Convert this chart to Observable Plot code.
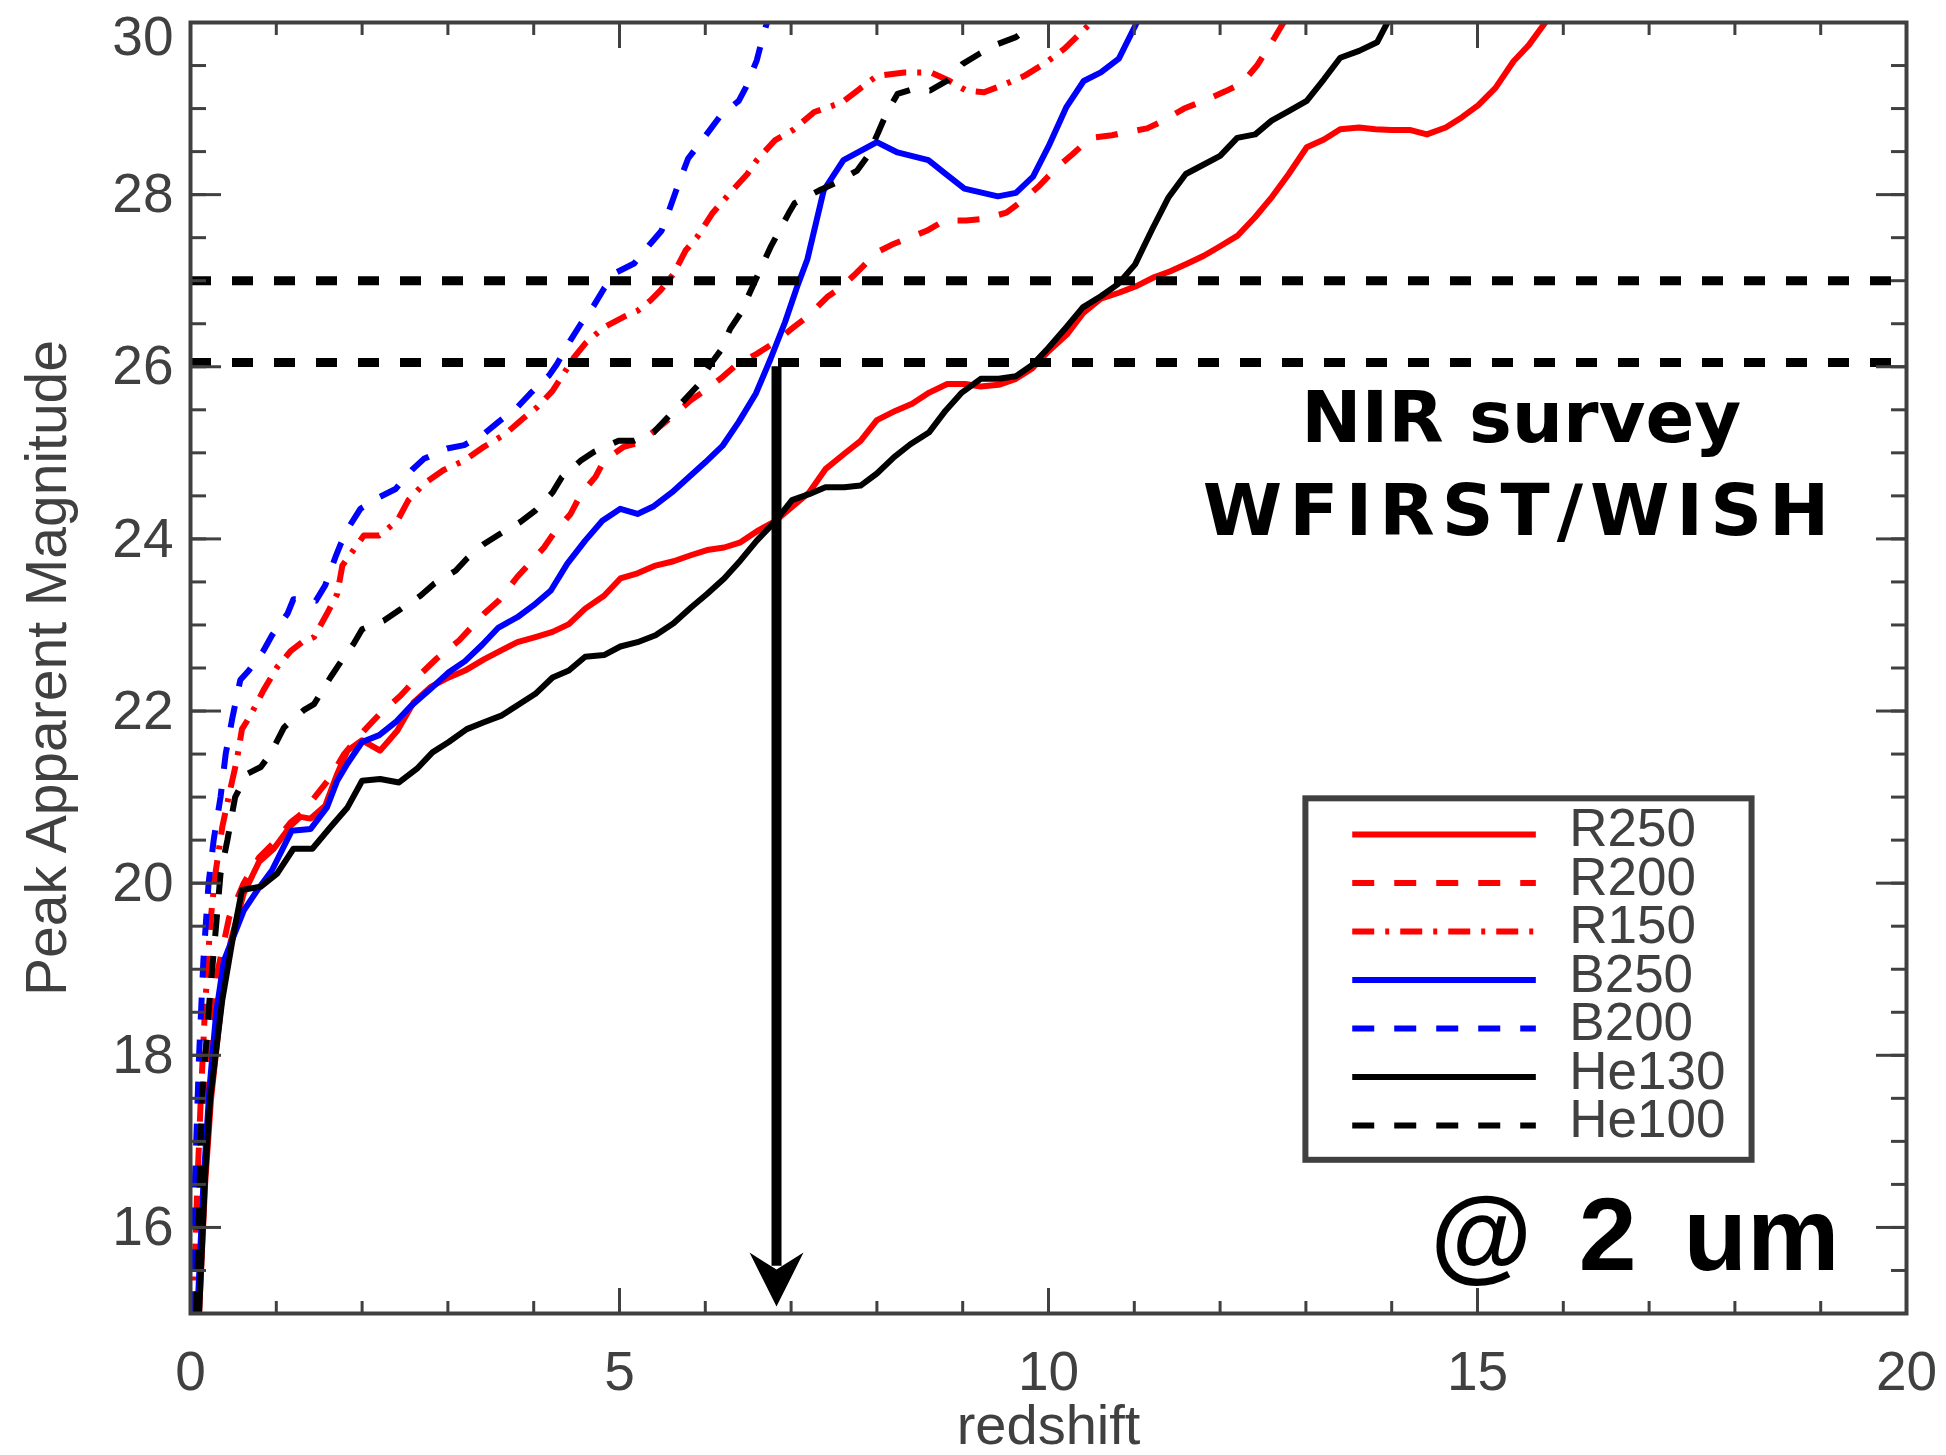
<!DOCTYPE html>
<html>
<head>
<meta charset="utf-8">
<script src="https://cdn.jsdelivr.net/npm/d3@7"></script>
<script src="https://cdn.jsdelivr.net/npm/@observablehq/plot@0.6"></script>
<style>
html, body { margin: 0; padding: 0; background: #ffffff; overflow: hidden; }
#chart svg { display: block; }
</style>
</head>
<body>
<div id="chart"></div>
<script>
// ---------------- data ----------------
const seriesNames = ["R250", "R200", "R150", "B250", "B200", "He130", "He100"];
const seriesColors = ["#ff0000", "#ff0000", "#ff0000", "#0000ff", "#0000ff", "#000000", "#000000"];
const seriesDash = [null, "22,20", "22,11,4,11", null, "22,20", null, "22,20"];

const z_R250 = [0.10,0.17,0.24,0.37,0.47,0.62,0.80,0.97,1.17,1.28,1.40,1.57,1.71,1.83,2.00,2.21,2.41,2.60,2.80,3.01,3.20,3.42,3.61,3.81,4.02,4.22,4.41,4.60,4.82,5.01,5.21,5.42,5.63,5.83,6.02,6.22,6.41,6.62,6.82,7.01,7.21,7.40,7.62,7.81,8.00,8.22,8.41,8.61,8.82,9.03,9.21,9.42,9.62,9.81,10.00,10.22,10.41,10.61,10.82,11.03,11.23,11.42,11.62,11.81,12.00,12.20,12.41,12.61,12.80,13.01,13.21,13.40,13.62,13.81,14.00,14.22,14.41,14.63,14.82,15.01,15.21,15.42,15.60,15.79];
const m_R250 = [15.0,16.5,17.5,18.7,19.33,19.88,20.25,20.40,20.67,20.77,20.75,20.90,21.27,21.54,21.66,21.54,21.77,22.10,22.28,22.39,22.47,22.60,22.70,22.80,22.86,22.92,23.01,23.19,23.34,23.54,23.60,23.69,23.74,23.81,23.87,23.90,23.96,24.10,24.21,24.37,24.54,24.81,24.99,25.14,25.38,25.49,25.57,25.70,25.80,25.80,25.77,25.79,25.86,25.98,26.18,26.38,26.63,26.79,26.86,26.94,27.04,27.11,27.20,27.29,27.40,27.52,27.74,27.98,28.24,28.55,28.64,28.76,28.78,28.76,28.75,28.75,28.70,28.78,28.90,29.04,29.24,29.55,29.74,30.0];

const z_R200 = [0.05,0.15,0.30,0.45,0.62,0.80,1.00,1.17,1.30,1.48,1.63,1.79,2.02,2.21,2.45,2.64,2.87,3.13,3.42,3.59,3.81,4.12,4.23,4.43,4.55,4.72,4.82,5.05,5.24,5.44,5.61,5.83,6.02,6.20,6.37,6.60,6.82,7.03,7.19,7.42,7.58,7.73,7.89,8.04,8.20,8.35,8.58,8.79,9.04,9.25,9.51,9.72,9.89,10.08,10.28,10.49,10.74,10.88,11.15,11.30,11.58,11.81,12.06,12.25,12.43,12.59,12.74];
const m_R200 = [15.0,17.5,18.9,19.6,20.0,20.3,20.5,20.71,20.81,21.04,21.23,21.50,21.77,21.97,22.18,22.39,22.61,22.82,23.13,23.28,23.56,23.90,24.06,24.29,24.52,24.72,24.91,25.07,25.12,25.28,25.42,25.61,25.74,25.88,26.03,26.15,26.29,26.46,26.58,26.81,26.92,27.06,27.22,27.35,27.43,27.49,27.58,27.70,27.70,27.72,27.79,27.95,28.10,28.30,28.47,28.66,28.69,28.72,28.77,28.84,29.00,29.09,29.20,29.29,29.50,29.75,30.0];

const z_R150 = [0.03,0.08,0.12,0.17,0.23,0.29,0.37,0.47,0.54,0.60,0.70,0.85,1.01,1.17,1.30,1.44,1.59,1.71,1.77,1.90,2.02,2.20,2.41,2.54,2.72,2.95,3.19,3.42,3.67,3.89,4.04,4.22,4.35,4.47,4.60,4.82,5.05,5.21,5.36,5.48,5.63,5.77,5.90,6.08,6.28,6.49,6.60,6.81,7.02,7.27,7.59,7.80,8.00,8.32,8.63,8.83,9.04,9.25,9.46,9.72,9.98,10.19,10.50];
const m_R150 = [15.0,16.5,17.5,18.56,19.53,20.11,20.65,21.12,21.43,21.79,21.95,22.24,22.51,22.70,22.80,22.86,23.13,23.36,23.69,23.87,24.04,24.04,24.21,24.45,24.64,24.80,24.91,25.07,25.22,25.41,25.53,25.72,25.92,26.11,26.27,26.46,26.58,26.65,26.77,26.89,27.08,27.35,27.50,27.78,28.01,28.24,28.40,28.63,28.75,28.96,29.07,29.23,29.38,29.42,29.42,29.33,29.21,29.19,29.27,29.38,29.54,29.70,30.0];

const z_B250 = [0.08,0.15,0.22,0.30,0.39,0.62,0.78,0.95,1.18,1.40,1.59,1.71,1.83,2.00,2.20,2.39,2.56,2.80,3.01,3.20,3.40,3.59,3.81,4.00,4.20,4.39,4.60,4.80,5.01,5.21,5.40,5.61,5.81,6.00,6.20,6.39,6.59,6.76,6.93,7.07,7.19,7.38,7.61,8.00,8.24,8.60,8.79,9.02,9.41,9.62,9.82,10.00,10.21,10.41,10.61,10.82,11.03];
const m_B250 = [15.0,16.5,17.6,18.5,19.1,19.68,19.92,20.15,20.61,20.63,20.88,21.19,21.39,21.64,21.72,21.87,22.05,22.26,22.45,22.58,22.77,22.97,23.09,23.23,23.40,23.71,23.98,24.21,24.35,24.29,24.38,24.54,24.72,24.89,25.08,25.36,25.69,26.09,26.52,26.93,27.25,28.05,28.40,28.61,28.49,28.40,28.25,28.07,27.98,28.02,28.21,28.56,29.02,29.32,29.42,29.58,30.0];

const z_B200 = [0.02,0.05,0.10,0.15,0.21,0.27,0.35,0.41,0.49,0.58,0.68,0.85,0.95,1.13,1.20,1.46,1.57,1.69,1.75,1.86,1.98,2.21,2.39,2.58,2.72,2.99,3.19,3.42,3.59,3.81,3.96,4.18,4.27,4.43,4.55,4.70,4.82,4.97,5.17,5.36,5.49,5.59,5.70,5.80,6.03,6.18,6.39,6.47,6.60,6.68,6.72];
const m_B200 = [15.0,16.5,18.0,19.1,19.99,20.5,21.0,21.5,21.93,22.36,22.47,22.70,22.88,23.13,23.30,23.28,23.46,23.79,23.94,24.16,24.35,24.49,24.58,24.80,24.93,25.05,25.09,25.22,25.36,25.53,25.69,25.90,26.03,26.31,26.50,26.71,26.91,27.10,27.20,27.43,27.58,27.85,28.16,28.42,28.72,28.92,29.09,29.24,29.56,29.87,30.0];

const z_He130 = [0.10,0.17,0.23,0.37,0.50,0.60,0.82,1.01,1.20,1.42,1.63,1.83,2.00,2.21,2.43,2.64,2.82,3.01,3.22,3.42,3.63,3.83,4.02,4.22,4.41,4.60,4.82,5.01,5.21,5.42,5.63,5.83,6.02,6.22,6.41,6.60,6.82,7.01,7.21,7.40,7.62,7.81,8.00,8.20,8.39,8.61,8.80,8.99,9.21,9.42,9.62,9.81,10.00,10.20,10.40,10.61,10.81,11.01,11.21,11.40,11.60,11.81,12.00,12.20,12.41,12.60,12.80,13.01,13.21,13.40,13.62,13.83,13.95];
const m_He130 = [15.0,16.6,17.5,18.64,19.4,19.92,19.96,20.11,20.40,20.40,20.65,20.88,21.19,21.21,21.17,21.33,21.52,21.64,21.79,21.87,21.95,22.08,22.20,22.39,22.47,22.63,22.65,22.75,22.80,22.88,23.02,23.20,23.36,23.54,23.75,23.98,24.21,24.45,24.52,24.60,24.60,24.62,24.76,24.95,25.10,25.24,25.49,25.70,25.86,25.86,25.89,26.02,26.22,26.45,26.69,26.82,26.96,27.19,27.60,27.97,28.24,28.35,28.45,28.66,28.70,28.86,28.97,29.09,29.34,29.59,29.67,29.77,30.0];

const z_He100 = [0.07,0.13,0.23,0.29,0.35,0.43,0.52,0.66,0.82,0.93,1.09,1.32,1.44,1.63,1.79,1.90,2.00,2.25,2.43,2.68,2.84,3.09,3.22,3.42,3.61,3.85,4.02,4.22,4.33,4.55,4.70,4.99,5.17,5.40,5.56,5.79,5.91,6.06,6.18,6.29,6.41,6.55,6.76,6.97,7.04,7.33,7.51,7.77,7.88,8.01,8.11,8.24,8.43,8.62,8.83,9.00,9.20,9.41,9.62,9.83];
const m_He100 = [15.0,17.45,18.75,19.41,20.11,20.50,21.0,21.27,21.35,21.50,21.81,22.01,22.08,22.39,22.63,22.78,22.95,23.05,23.17,23.34,23.48,23.63,23.77,23.94,24.06,24.20,24.33,24.54,24.72,24.91,25.01,25.14,25.14,25.24,25.41,25.65,25.78,26.03,26.19,26.44,26.62,26.93,27.39,27.78,27.90,28.05,28.13,28.28,28.43,28.71,28.94,29.17,29.23,29.21,29.33,29.52,29.64,29.75,29.83,29.99];

const seriesZ = [z_R250, z_R200, z_R150, z_B250, z_B200, z_He130, z_He100];
const seriesM = [m_R250, m_R200, m_R150, m_B250, m_B200, m_He130, m_He100];

// survey limits (horizontal dashed lines) and the arrow
const surveyLimits = [27.0, 26.05];
const arrowZ = 6.83, arrowTop = 26.0, arrowTip = 15.08, arrowShaftEnd = 15.55;

// scales and ticks
const xDomain = [0, 20];
const yDomain = [15, 30];
const xMajorTicks = [0, 5, 10, 15, 20];
const xMinorTicks = d3.range(0, 21, 1);
const yMajorTicks = [16, 18, 20, 22, 24, 26, 28, 30];
const yMinorTicks = d3.range(15, 30.01, 0.5);

// texts
const xLabel = "redshift";
const yLabel = "Peak Apparent Magnitude";
const annotLine1 = "NIR survey";
const annotLine2 = "WFIRST/WISH";
const annotBand = "@ 2 um";

// legend layout (in data units)
const legendBox = {x1: 13.0, x2: 18.2, y1: 16.78, y2: 20.98};
const legendLineX1 = 13.54, legendLineX2 = 15.68, legendTextX = 16.07;
const legendTopY = 20.566, legendStepY = 0.5635;

// ---------------- build ----------------
const GRAY = "#404040";
const FONT = "'Liberation Sans', Arial, Helvetica, sans-serif";

const arrowHead = {
  draw(ctx, size) {
    const r = Math.sqrt(size / Math.PI);
    ctx.moveTo(0, 0);
    ctx.lineTo(-r, -2 * r);
    ctx.lineTo(0, -1.37 * r);
    ctx.lineTo(r, -2 * r);
    ctx.closePath();
  }
};

const marks = [];

// curves
seriesNames.forEach((name, i) => {
  const data = seriesZ[i].map((z, j) => ({z, m: seriesM[i][j]}));
  marks.push(Plot.line(data, {
    x: "z", y: "m", stroke: seriesColors[i], strokeWidth: 6,
    strokeDasharray: seriesDash[i] || undefined,
    strokeLinecap: seriesDash[i] ? "butt" : "round",
    strokeLinejoin: "round", clip: true
  }));
});

// survey limit lines
marks.push(Plot.ruleY(surveyLimits, {stroke: "#000", strokeWidth: 9, strokeDasharray: "21,21", strokeLinecap: "butt"}));

// arrow
marks.push(Plot.ruleX([arrowZ], {y1: arrowTop, y2: arrowShaftEnd, stroke: "#000", strokeWidth: 10, strokeLinecap: "butt"}));
marks.push(Plot.dot([{z: arrowZ, m: arrowTip}], {x: "z", y: "m", r: 27, symbol: arrowHead, fill: "#000", stroke: "none"}));

// axes ticks (inward)
for (const anchor of ["bottom", "top"]) {
  marks.push(Plot.axisX({anchor, ticks: xMinorTicks, tickSize: -12, fill: "none", stroke: GRAY, strokeWidth: 3, label: null}));
  marks.push(Plot.axisX({anchor, ticks: xMajorTicks, tickSize: -25, fill: "none", stroke: GRAY, strokeWidth: 3, label: null}));
}
for (const anchor of ["left", "right"]) {
  marks.push(Plot.axisY({anchor, ticks: yMinorTicks, tickSize: -16, fill: "none", stroke: GRAY, strokeWidth: 3, label: null}));
  marks.push(Plot.axisY({anchor, ticks: yMajorTicks, tickSize: -31, fill: "none", stroke: GRAY, strokeWidth: 3, label: null}));
}
// tick labels
marks.push(Plot.axisX({anchor: "bottom", ticks: xMajorTicks, tickSize: 0, tickPadding: 37, fontSize: 55, fill: GRAY, label: null, tickFormat: d3.format("d")}));
marks.push(Plot.axisY({anchor: "left", ticks: yMajorTicks.filter(d => d < 30), tickSize: 0, tickPadding: 17, fontSize: 55, fill: GRAY, label: null, tickFormat: d3.format("d")}));
marks.push(Plot.axisY({anchor: "left", ticks: [30], tickSize: 0, tickPadding: 17, fontSize: 55, fill: GRAY, label: null, dy: 15, tickFormat: d3.format("d")}));

// axis titles
marks.push(Plot.text([xLabel], {x: () => (xDomain[0] + xDomain[1]) / 2, y: () => yDomain[0], text: d => d, dy: 130, lineAnchor: "bottom", fontSize: 56, fill: GRAY}));
marks.push(Plot.text([yLabel], {x: () => xDomain[0], y: () => (yDomain[0] + yDomain[1]) / 2, text: d => d, rotate: -90, dx: -165, lineAnchor: "top", textAnchor: "middle", fontSize: 57, fill: GRAY}));

// frame
marks.push(Plot.frame({stroke: GRAY, strokeWidth: 4}));

// annotations
marks.push(Plot.text([{z: 15.51, m: 25.13, t: annotLine1}], {x: "z", y: "m", text: "t", fontFamily: "'DejaVu Sans', sans-serif", fontWeight: "bold", fontSize: 72, lineAnchor: "bottom", textAnchor: "middle", fill: "#000"}));
marks.push(Plot.text([{z: 15.49, m: 24.05, t: annotLine2}], {x: "z", y: "m", text: "t", fontFamily: "'DejaVu Sans', sans-serif", fontWeight: "bold", fontSize: 72, lineAnchor: "bottom", textAnchor: "middle", fill: "#000"}));
marks.push(Plot.text([{z: 19.22, m: 15.5, t: annotBand}], {x: "z", y: "m", text: "t", fontWeight: "bold", fontSize: 104, lineAnchor: "bottom", textAnchor: "end", fill: "#000"}));

// legend
marks.push(Plot.rect([legendBox], {x1: "x1", x2: "x2", y1: "y1", y2: "y2", fill: "#fff", stroke: GRAY, strokeWidth: 6}));
seriesNames.forEach((name, i) => {
  const y = legendTopY - i * legendStepY;
  marks.push(Plot.link([{a: legendLineX1, b: legendLineX2, y}], {
    x1: "a", x2: "b", y1: "y", y2: "y", stroke: seriesColors[i], strokeWidth: 6,
    strokeDasharray: seriesDash[i] || undefined, strokeLinecap: "butt"
  }));
});
marks.push(Plot.text(seriesNames.map((name, i) => ({name, y: legendTopY - i * legendStepY})), {
  x: () => legendTextX, y: "y", text: "name", textAnchor: "start", lineAnchor: "middle", dy: -5, fontSize: 53, fill: GRAY
}));

const chart = Plot.plot({
  width: 1946, height: 1455,
  marginLeft: 190, marginRight: 40, marginTop: 22, marginBottom: 142,
  x: {domain: xDomain},
  y: {domain: yDomain},
  style: {fontFamily: FONT, background: "#fff", color: GRAY, overflow: "visible"},
  marks
});
document.getElementById("chart").append(chart);

// fine typographic tweaks
d3.select(chart).selectAll("text").each(function() {
  const t = this.textContent;
  if (t === annotLine2) d3.select(this).attr("letter-spacing", 7);
  if (t === annotBand) d3.select(this).attr("word-spacing", 18);
});
</script>
</body>
</html>
